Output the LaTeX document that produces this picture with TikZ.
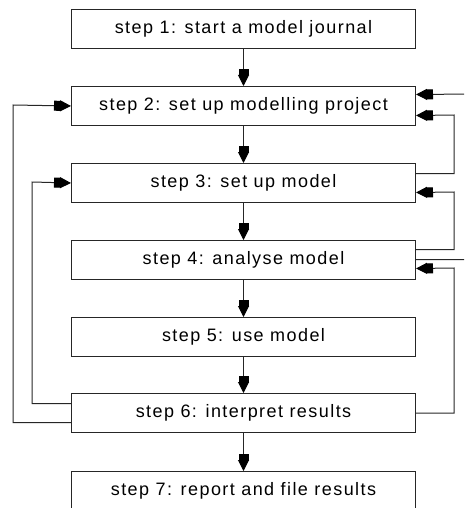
\documentclass[tikz,border=0pt]{standalone}
\usepackage{fontspec}
\setmainfont[LetterSpace=8]{Liberation Sans}
\usetikzlibrary{arrows.meta,calc}
\begin{document}
\begin{tikzpicture}[x=1pt,y=-1pt,
  stepbox/.style={draw=black!85,line width=1pt,minimum width=344pt,minimum height=39pt,
    inner sep=0pt,font=\fontsize{18}{20}\selectfont,anchor=north west},
  conn/.style={draw=black!85,line width=1pt},
  flow/.style={conn,-{Rectangle[length=6pt,width=10pt,sep=0pt,fill=black,color=black]Triangle[length=11pt,width=11pt,fill=black,color=black]}},
]
\useasboundingbox (0,0) rectangle (464,508);
\clip (0,0) rectangle (464,508);

\node[stepbox] (s1) at (71,9)   {step 1: start a model journal};
\node[stepbox] (s2) at (71,86)  {step 2: set up modelling project};
\node[stepbox] (s3) at (71,163) {step 3: set up model};
\node[stepbox] (s4) at (71,240) {step 4: analyse model};
\node[stepbox] (s5) at (71,317) {step 5: use model};
\node[stepbox] (s6) at (71,393) {step 6: interpret results};
\node[stepbox] (s7) at (71,471) {step 7: report and file results};

% main sequence
\draw[flow] (s1) -- (s2);
\draw[flow] (s2) -- (s3);
\draw[flow] (s3) -- (s4);
\draw[flow] (s4) -- (s5);
\draw[flow] (s5) -- (s6);
\draw[flow] (s6) -- (s7);

% feedback loops on the left
\draw[flow] ($(s6.west)+(0,9.5)$) -| (13,105) -- (s2.west);
\draw[flow] ($(s6.west)+(0,-9.5)$) -| (32,182) -- (s3.west);

% feedback loops on the right
\draw[flow] ($(s4.east)+(0,-0.5)$) -| (472,94) -- ($(s2.east)+(0,-11.5)$);
\draw[flow] ($(s3.east)+(0,-9.5)$) -| (454,115) -- ($(s2.east)+(0,9.5)$);
\draw[flow] ($(s4.east)+(0,-10.5)$) -| (454,192) -- ($(s3.east)+(0,9.5)$);
\draw[flow] (s6.east) -| (454,268) -- ($(s4.east)+(0,8.5)$);
\end{tikzpicture}
\end{document}
